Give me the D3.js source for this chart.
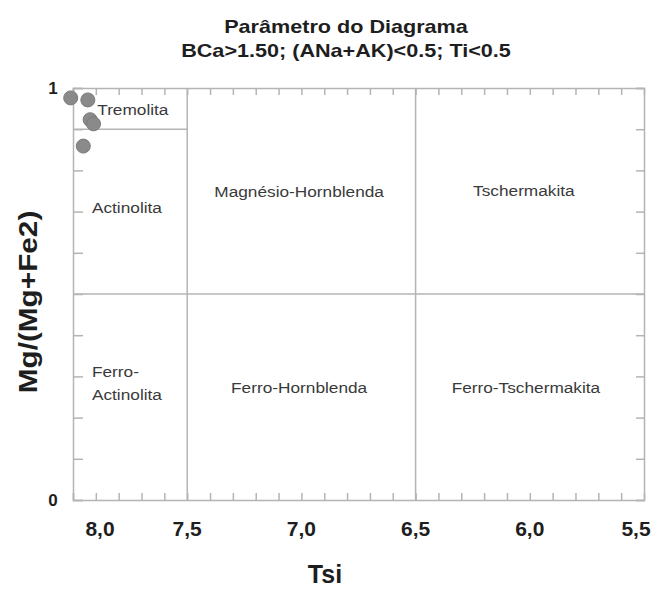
<!DOCTYPE html>
<html>
<head>
<meta charset="utf-8">
<script src="https://cdn.jsdelivr.net/npm/d3@7"></script>
<style>
  body { margin: 0; background: #fff; }
  svg { font-family: "Liberation Sans", Arial, sans-serif; display: block; }
</style>
</head>
<body>
<div class="chart"></div>
<script>
const titleLines = ["Parâmetro do Diagrama", "BCa>1.50; (ANa+AK)<0.5; Ti<0.5"];
const xLabel = "Tsi";
const yLabel = "Mg/(Mg+Fe2)";

// samples (Tsi, Mg/(Mg+Fe2))
const sampleTsi = [8.01, 7.935, 7.925, 7.91, 7.955];
const sampleMg = [0.976, 0.971, 0.923, 0.913, 0.859];

const xDomain = [8.0, 5.5];
const xMajorTicks = [8.0, 7.5, 7.0, 6.5, 6.0, 5.5];
const xDividers = [7.5, 6.5];
const yDivider = 0.5;
const tremolitaLimit = { mg: 0.9, from: 8.0, to: 7.5 };

const fields = [
    { name: ["Tremolita"], tsi: 7.738, mg: 0.947, anchor: "middle" },
    { name: ["Actinolita"], tsi: 7.917, mg: 0.708, anchor: "start" },
    { name: ["Magnésio-Hornblenda"], tsi: 7.01, mg: 0.748, anchor: "middle" },
    { name: ["Tschermakita"], tsi: 6.026, mg: 0.75, anchor: "middle" },
    { name: ["Ferro-", "Actinolita"], tsi: 7.917, mg: 0.282, anchor: "start" },
    { name: ["Ferro-Hornblenda"], tsi: 7.01, mg: 0.272, anchor: "middle" },
    { name: ["Ferro-Tschermakita"], tsi: 6.017, mg: 0.272, anchor: "middle" }
];

function drawChart() {
    const width = 653;
    const height = 590;
    const margin = { top: 88, bottom: 90, left: 73, right: 9 };

    const x = d3.scaleLinear()
        .domain(xDomain)
        .range([margin.left, width - margin.right]);
    const y = d3.scaleLinear()
        .domain([0, 1])
        .range([height - margin.bottom, margin.top]);

    const svg = d3.select(".chart")
        .append("svg")
        .attr("width", width)
        .attr("height", height);

    const lineColor = "#b4b4b4";
    const textColor = "#1e1e1e";
    const minorX = d3.range(80, 55, -1).map(d => d / 10);
    const minorY = d3.range(0, 11).map(d => d / 10);

    // frame with inner ticks
    const bottom = svg.append("g")
        .attr("transform", `translate(0,${y(0)})`)
        .call(d3.axisBottom(x).tickValues(minorX).tickSize(-7).tickFormat(""));
    const top = svg.append("g")
        .attr("transform", `translate(0,${y(1)})`)
        .call(d3.axisTop(x).tickValues(minorX).tickSize(-7).tickFormat(""));
    const left = svg.append("g")
        .attr("transform", `translate(${x(8.0)},0)`)
        .call(d3.axisLeft(y).tickValues(minorY).tickSize(-10).tickFormat(""));
    const right = svg.append("g")
        .attr("transform", `translate(${x(5.5)},0)`)
        .call(d3.axisRight(y).tickValues(minorY).tickSize(-8).tickFormat(""));

    [bottom, top, left, right].forEach(g => {
        g.selectAll("path, line").attr("stroke", lineColor).attr("stroke-width", 1.5);
    });

    // tick labels
    svg.append("g")
        .selectAll("text")
        .data(xMajorTicks)
        .enter()
        .append("text")
        .attr("x", d => x(d))
        .attr("dx", (d, i) => i === 0 ? 27 : (i === xMajorTicks.length - 1 ? -8 : 0))
        .attr("y", 536)
        .attr("text-anchor", "middle")
        .attr("font-size", 21)
        .attr("font-weight", "bold")
        .attr("fill", textColor)
        .text(d => d3.format(".1f")(d).replace(".", ","));

    svg.append("g")
        .selectAll("text")
        .data([0, 1])
        .enter()
        .append("text")
        .attr("x", x(8.0) - 20)
        .attr("y", d => y(d) + 6)
        .attr("text-anchor", "middle")
        .attr("font-size", 17)
        .attr("font-weight", "bold")
        .attr("fill", textColor)
        .text(d => d);

    // field dividers
    svg.append("g")
        .selectAll("line")
        .data(xDividers)
        .enter()
        .append("line")
        .attr("x1", d => x(d))
        .attr("x2", d => x(d))
        .attr("y1", y(0))
        .attr("y2", y(1))
        .attr("stroke", lineColor)
        .attr("stroke-width", 1.5);

    svg.append("line")
        .attr("x1", x(8.0))
        .attr("x2", x(5.5))
        .attr("y1", y(yDivider))
        .attr("y2", y(yDivider))
        .attr("stroke", lineColor)
        .attr("stroke-width", 1.5);

    svg.append("line")
        .attr("x1", x(tremolitaLimit.from))
        .attr("x2", x(tremolitaLimit.to))
        .attr("y1", y(tremolitaLimit.mg))
        .attr("y2", y(tremolitaLimit.mg))
        .attr("stroke", lineColor)
        .attr("stroke-width", 1.5);

    // field names (the source font is a bit wider than Arial)
    const fieldText = svg.append("g")
        .selectAll("text")
        .data(fields)
        .enter()
        .append("text")
        .attr("text-anchor", d => d.anchor)
        .attr("font-size", 15)
        .attr("fill", "#3a3a3a")
        .attr("transform", d => `translate(${x(d.tsi)},${y(d.mg)}) scale(1.15,1)`);

    fieldText.selectAll("tspan")
        .data(d => d.name.map((t, i) => ({ t, i, n: d.name.length })))
        .enter()
        .append("tspan")
        .attr("x", 0)
        .attr("y", d => (d.i - (d.n - 1) / 2) * 23 + 5)
        .text(d => d.t);

    // samples
    const samples = sampleTsi.map((t, i) => ({ tsi: t, mg: sampleMg[i] }));
    svg.append("g")
        .selectAll("circle")
        .data(samples)
        .enter()
        .append("circle")
        .attr("cx", d => x(d.tsi))
        .attr("cy", d => y(d.mg))
        .attr("r", 7)
        .attr("fill", "#8a8a8a")
        .attr("stroke", "#7a7a7a")
        .attr("stroke-width", 1);

    // titles
    svg.append("g")
        .selectAll("text")
        .data(titleLines)
        .enter()
        .append("text")
        .attr("transform", (d, i) => `translate(346,${33 + i * 24}) scale(1.2,1)`)
        .attr("text-anchor", "middle")
        .attr("font-size", 18)
        .attr("font-weight", "bold")
        .attr("fill", textColor)
        .text(d => d);

    svg.append("text")
        .attr("x", 325)
        .attr("y", 583)
        .attr("text-anchor", "middle")
        .attr("font-size", 25)
        .attr("font-weight", "bold")
        .attr("fill", textColor)
        .text(xLabel);

    svg.append("text")
        .attr("transform", `translate(37,302) rotate(-90) scale(1.19,1)`)
        .attr("text-anchor", "middle")
        .attr("font-size", 25)
        .attr("font-weight", "bold")
        .attr("fill", textColor)
        .text(yLabel);
}

drawChart();
</script>
</body>
</html>
